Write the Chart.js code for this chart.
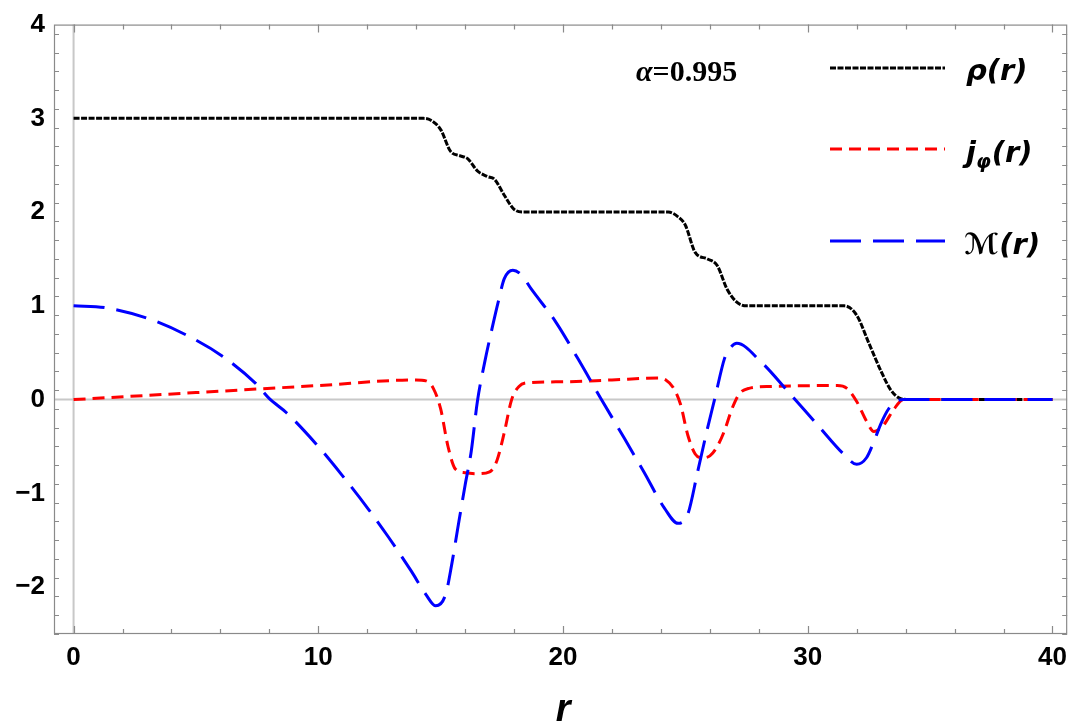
<!DOCTYPE html>
<html>
<head>
<meta charset="utf-8">
<script src="https://cdn.jsdelivr.net/npm/chart.js@4.4.1/dist/chart.umd.min.js"></script>
<style>
  html,body{margin:0;padding:0;background:#fff;}
  canvas{display:block;}
</style>
</head>
<body>
<canvas id="c" width="1075" height="727"></canvas>
<script>
// ---- data ----
const rhoR = [0, 14.3, 14.6, 15.0, 15.4, 15.8, 16.1, 16.5, 16.9, 17.2, 17.6, 18.0, 18.4, 24.3, 24.7, 25.0, 25.4, 25.9, 26.3, 26.7, 27.1, 27.5, 31.5, 32.0, 32.5, 33.0, 33.4, 33.8, 34.2, 40];
const rhoV = [3, 3, 2.98, 2.88, 2.65, 2.6, 2.57, 2.44, 2.38, 2.35, 2.18, 2.03, 2.0, 2.0, 1.95, 1.86, 1.57, 1.5, 1.43, 1.18, 1.04, 1.0, 1.0, 0.9, 0.6, 0.3, 0.1, 0.01, 0, 0];

const jR = [0, 5, 10, 14.0, 14.4, 14.7, 15.0, 15.3, 15.6, 16.0, 16.5, 17.0, 17.3, 17.6, 17.9, 18.2, 18.6, 20, 22, 23.9, 24.2, 24.5, 24.8, 25.1, 25.4, 25.7, 26.0, 26.3, 26.6, 26.9, 27.2, 27.6, 28.5, 31.2, 31.6, 32.0, 32.4, 32.7, 33.1, 33.5, 33.9, 40];
const jV = [0, 0.075, 0.15, 0.21, 0.2, 0.12, -0.1, -0.5, -0.74, -0.78, -0.79, -0.77, -0.65, -0.35, 0.0, 0.14, 0.18, 0.19, 0.21, 0.23, 0.21, 0.13, -0.05, -0.38, -0.58, -0.62, -0.6, -0.5, -0.33, -0.1, 0.06, 0.12, 0.14, 0.15, 0.12, -0.02, -0.23, -0.34, -0.27, -0.11, 0, 0];

const mR = [0, 1.3, 3.1, 4.6, 6.1, 7.45, 8.0, 8.7, 9.9, 10.95, 12.05, 12.85, 13.8, 14.4, 14.8, 15.2, 15.45, 15.7, 16.0, 16.25, 16.5, 16.8, 17.1, 17.35, 17.6, 17.95, 18.3, 18.7, 19.7, 20.6, 21.55, 22.5, 23.3, 24.15, 24.7, 25.1, 25.5, 25.9, 26.2, 26.6, 26.8, 27.1, 28.1, 29.2, 30.4, 31.5, 32.0, 32.4, 32.7, 33.0, 33.3, 33.6, 33.9, 40];
const mV = [1.0, 0.98, 0.86, 0.69, 0.46, 0.17, 0.01, -0.14, -0.47, -0.8, -1.17, -1.46, -1.83, -2.08, -2.2, -2.08, -1.76, -1.37, -0.91, -0.55, -0.02, 0.4, 0.76, 1.04, 1.29, 1.38, 1.33, 1.18, 0.83, 0.44, 0.01, -0.41, -0.77, -1.16, -1.32, -1.22, -0.77, -0.31, 0.01, 0.44, 0.54, 0.6, 0.4, 0.085, -0.27, -0.59, -0.69, -0.62, -0.45, -0.25, -0.1, -0.02, 0, 0];

const xTicks = [0, 10, 20, 30, 40];
const yTicks = [-2, -1, 0, 1, 2, 3, 4];
const legendLabels = ['ρ', 'j', 'ℳ'];
const annotation = ['α', '=0.995'];

const pts = (r, v) => r.map((x, i) => ({x: x, y: v[i]}));

const fmt = v => v < 0 ? '\u2212' + Math.abs(v) : String(v);

const framePlugin = {
  id: 'frame',
  beforeDatasetsDraw(chart) {
    const {ctx, chartArea: a, scales: {x, y}} = chart;
    ctx.save();
    ctx.strokeStyle = '#c8c8c8';
    ctx.lineWidth = 2;
    const y0 = y.getPixelForValue(0), x0 = x.getPixelForValue(0);
    ctx.beginPath();
    ctx.moveTo(a.left, y0); ctx.lineTo(a.right, y0);
    ctx.moveTo(x0, a.top); ctx.lineTo(x0, a.bottom);
    ctx.stroke();
    ctx.restore();
  },
  afterDraw(chart) {
    const {ctx, chartArea: a, scales: {x, y}} = chart;
    ctx.save();
    // frame
    ctx.strokeStyle = '#8a8a8a';
    ctx.lineWidth = 1.2;
    ctx.strokeRect(a.left + 0.5, a.top + 0.5, a.right - a.left - 1, a.bottom - a.top - 1);
    // x ticks
    ctx.beginPath();
    for (let v = 0; v <= 40.001; v += 2) {
      const px = Math.round(x.getPixelForValue(v)) + 0.5;
      const major = Math.abs(v % 10) < 1e-6;
      const L = major ? 8 : 5;
      ctx.moveTo(px, a.bottom); ctx.lineTo(px, a.bottom - L);
      ctx.moveTo(px, a.top); ctx.lineTo(px, a.top + L);
    }
    // y ticks
    for (let k = -25; k <= 40; k += 2) {
      const v = k / 10;
      const py = Math.round(y.getPixelForValue(v)) + 0.5;
      const major = k % 10 === 0;
      const L = major ? 8 : 5;
      ctx.moveTo(a.left, py); ctx.lineTo(a.left + L, py);
      ctx.moveTo(a.right, py); ctx.lineTo(a.right - L, py);
    }
    ctx.stroke();

    // legend
    const items = [
      {color: '#000000', dash: [6, 1.5], w: 3, yy: 68},
      {color: '#ff0000', dash: [12, 7], w: 3, yy: 149},
      {color: '#0000ff', dash: [31, 12], w: 3, yy: 241}
    ];
    items.forEach(it => {
      ctx.strokeStyle = it.color;
      ctx.lineWidth = it.w;
      ctx.setLineDash(it.dash);
      ctx.beginPath();
      ctx.moveTo(830, it.yy); ctx.lineTo(945, it.yy);
      ctx.stroke();
    });
    ctx.setLineDash([]);
    ctx.fillStyle = '#000';
    ctx.textBaseline = 'alphabetic';
    ctx.textAlign = 'left';
    const big = 'italic bold 29px "DejaVu Sans", sans-serif';
    const sub = 'italic bold 19px "DejaVu Sans", sans-serif';
    let tx = 966;
    // rho(r)
    ctx.font = big;
    ctx.fillText(legendLabels[0] + '(r)', tx, 80);
    // j_phi(r)
    ctx.fillText(legendLabels[1], tx, 162);
    let w = ctx.measureText(legendLabels[1]).width;
    ctx.font = sub;
    ctx.fillText('φ', tx + w, 168);
    let w2 = ctx.measureText('φ').width;
    ctx.font = big;
    ctx.fillText('(r)', tx + w + w2 + 1, 162);
    // M(r)
    ctx.fillText(legendLabels[2], tx - 2, 254);
    let w3 = ctx.measureText(legendLabels[2]).width;
    ctx.fillText('(r)', tx - 2 + w3 + 1, 254);

    // annotation alpha=0.995
    ctx.font = 'italic bold 30px "Liberation Serif", serif';
    ctx.fillText(annotation[0], 636, 81);
    let wa = ctx.measureText(annotation[0]).width;
    ctx.font = 'bold 30px "Liberation Serif", serif';
    ctx.fillText(annotation[1], 636 + wa, 81);

    // x axis title
    ctx.font = 'italic bold 38px "Liberation Sans", sans-serif';
    ctx.textAlign = 'center';
    ctx.fillText('r', x.getPixelForValue(20), 721);
    ctx.restore();
  }
};

new Chart(document.getElementById('c'), {
  type: 'line',
  data: {
    datasets: [
      {label: 'rho', data: pts(rhoR, rhoV), borderColor: '#000000', borderWidth: 3, borderDash: [6, 1.5],
       pointRadius: 0, cubicInterpolationMode: 'monotone', fill: false, order: 2},
      {label: 'j', data: pts(jR, jV), borderColor: '#ff0000', borderWidth: 3, borderDash: [12, 7],
       pointRadius: 0, cubicInterpolationMode: 'monotone', fill: false, order: 1},
      {label: 'M', data: pts(mR, mV), borderColor: '#0000ff', borderWidth: 3, borderDash: [31, 12],
       pointRadius: 0, cubicInterpolationMode: 'monotone', fill: false, order: 0}
    ]
  },
  options: {
    responsive: false,
    animation: false,
    layout: {padding: {top: 22, right: 4, left: 0, bottom: 0}},
    plugins: {legend: {display: false}, tooltip: {enabled: false}, title: {display: false}},
    scales: {
      x: {
        type: 'linear', min: -0.8, max: 40.6,
        grid: {display: false, drawTicks: false},
        border: {display: false},
        afterBuildTicks(s) { s.ticks = xTicks.map(v => ({value: v})); },
        ticks: {autoSkip: false, maxRotation: 0, padding: 8, color: '#000',
          font: {family: '"Liberation Sans", Arial, sans-serif', weight: 'bold', size: 26},
          callback: v => fmt(v)},
        afterFit(s) { s.height = 93; }
      },
      y: {
        type: 'linear', min: -2.5, max: 4,
        grid: {display: false, drawTicks: false},
        border: {display: false},
        afterBuildTicks(s) { s.ticks = yTicks.map(v => ({value: v})); },
        ticks: {autoSkip: false, padding: 9, color: '#000',
          font: {family: '"Liberation Sans", Arial, sans-serif', weight: 'bold', size: 26},
          callback: v => fmt(v)},
        afterFit(s) { s.width = 54; }
      }
    }
  },
  plugins: [framePlugin]
});
</script>
</body>
</html>
